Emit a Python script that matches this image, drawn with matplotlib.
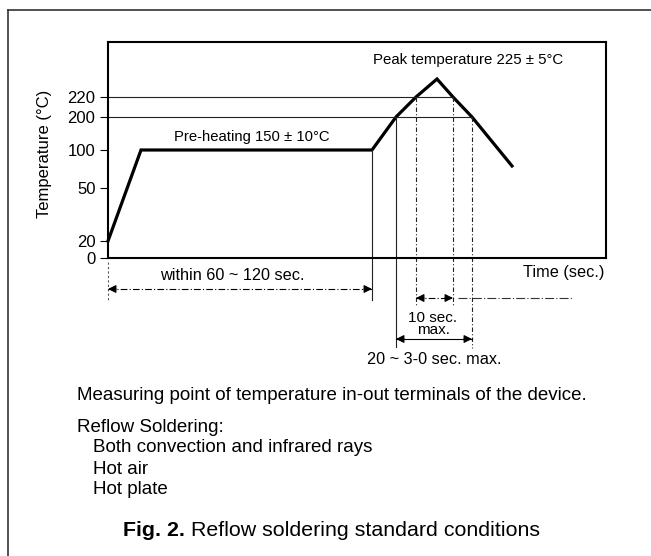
import numpy as np
import matplotlib
matplotlib.use("Agg")
import matplotlib.pyplot as plt

plt.rcParams['font.family'] = ['Liberation Sans', 'DejaVu Sans']

# Profil (schematisch): Zeit in willkürlichen Einheiten, Temperatur in °C
time_pts = [0, 16.5, 132, 144, 154, 164.5, 172.5, 182, 202]
temp_pts = [20, 100, 100, 200, 220, 225, 220, 200, 79]

y_ticks = [0, 20, 50, 100, 200, 220]
# nicht-lineare Temperaturachse des Originals (Stützstellen)
scale_temp = [0, 20, 50, 100, 200, 220, 225, 250]
scale_pos = [0, 17, 70, 108, 141, 161, 179, 216]

preheat_label = "Pre-heating 150 ± 10°C"
peak_label = "Peak temperature 225 ± 5°C"
notes = ["Measuring point of temperature in-out terminals of the device.",
         "Reflow Soldering:",
         "Both convection and infrared rays",
         "Hot air",
         "Hot plate"]

W, H = 651, 556


def fwd(t):
    return np.interp(t, scale_temp, scale_pos)


def inv(p):
    return np.interp(p, scale_pos, scale_temp)


fig = plt.figure(figsize=(W / 100, H / 100), dpi=100)
ax = fig.add_axes([108 / W, 1 - 258 / H, 498 / W, 216 / H])
ax.set_yscale('function', functions=(fwd, inv))
ax.set_xlim(0, 249)
ax.set_ylim(0, 250)

for s in ax.spines.values():
    s.set_linewidth(1.5)
ax.set_yticks(y_ticks)
ax.set_xticks([])
ax.tick_params(axis='y', direction='out', length=6, width=0.8, pad=3, labelsize=12)
ax.set_ylabel("Temperature (°C)", fontsize=12)
ax.yaxis.set_label_coords(-0.112, 0.48)

# Kurve
ax.plot(time_pts, temp_pts, color='black', lw=2.3, solid_joinstyle='miter', clip_on=False)

# Hilfslinien 220 / 200
ax.plot([0, time_pts[6]], [220, 220], color='#222222', lw=0.8)
ax.plot([0, time_pts[7]], [200, 200], color='#222222', lw=0.8)

fig.canvas.draw()
xt = ax.get_xaxis_transform()


def frac(t):
    return ax.transAxes.inverted().transform(ax.transData.transform((0, t)))[1]


def yp(pix):
    # Pixelzeile -> Achsenanteil
    return (258 - pix) / 216


# senkrechte Linien
vlines = [(time_pts[2], 100, 300, '-'),
          (time_pts[3], 200, 347, '-'),
          (time_pts[4], 220, 305, (0, (4, 2, 1, 2))),
          (time_pts[6], 220, 305, (0, (4, 2, 1, 2))),
          (time_pts[7], 200, 348, (0, (4, 2, 1, 2)))]
for x, t, pix, ls in vlines:
    ax.plot([x, x], [frac(t), yp(pix)], transform=xt, color='#222222',
            lw=0.8, ls=ls, clip_on=False)
ax.plot([0, 0], [yp(262), yp(300)], transform=xt, color='#555555', lw=0.8,
        ls=(0, (2, 2)), clip_on=False)


def dim_arrow(x0, x1, pix, ls):
    y = yp(pix)
    ax.plot([x0, x1], [y, y], transform=xt, color='black', lw=0.8, ls=ls, clip_on=False)
    for a, b in ((x1, x0), (x0, x1)):
        ax.annotate('', xy=(a, y), xytext=(a + (4 if b > a else -4), y),
                    xycoords=xt, textcoords=xt, annotation_clip=False,
                    arrowprops=dict(arrowstyle='-|>', color='black', lw=0.8,
                                    mutation_scale=12, shrinkA=0, shrinkB=0))


dim_arrow(0, time_pts[2], 289, (0, (6, 2, 1, 2)))
dim_arrow(time_pts[4], time_pts[6], 298, (0, (6, 2, 1, 2)))
dim_arrow(time_pts[3], time_pts[7], 339, '-')
ax.plot([175, 232.5], [yp(298), yp(298)], transform=xt, color='#333333', lw=0.8,
        ls=(0, (8, 2, 1, 2)), clip_on=False)

# Beschriftungen
ax.text(72, yp(137), preheat_label, transform=xt, ha='center', va='center', fontsize=10.7)
ax.text(180, yp(60), peak_label, transform=xt, ha='center', va='center', fontsize=10.8)
ax.text(62, yp(276), "within 60 ~ 120 sec.", transform=xt, ha='center', va='center', fontsize=11.7)
ax.text(248, yp(273), "Time (sec.)", transform=xt, ha='right', va='center', fontsize=11.7)
ax.text(162.5, yp(324), "10 sec.\nmax.", transform=xt, ha='center', va='center',
        fontsize=11, linespacing=0.85)
ax.text(163, yp(359), "20 ~ 3-0 sec. max.", transform=xt, ha='center', va='center', fontsize=11.7)

# Rahmen (nur oben und links sichtbar)
fig.add_artist(plt.Line2D([8 / W, 1], [1 - 10 / H, 1 - 10 / H], color='#333333', lw=1.2))
fig.add_artist(plt.Line2D([8 / W, 8 / W], [0, 1 - 10 / H], color='#333333', lw=1.2))

# Text unten
note_pos = [(77, 395), (77, 428), (93, 448), (93, 469), (93, 489)]
for (px, py), s in zip(note_pos, notes):
    fig.text(px / W, 1 - py / H, s, ha='left', va='center', fontsize=13.5)
fig.text(123 / W, 1 - 530 / H, "Fig. 2.", ha='left', va='center', fontsize=15.4,
         fontweight='bold')
fig.text(191 / W, 1 - 530 / H, "Reflow soldering standard conditions",
         ha='left', va='center', fontsize=15.4)

fig.savefig("out.png", dpi=100)
